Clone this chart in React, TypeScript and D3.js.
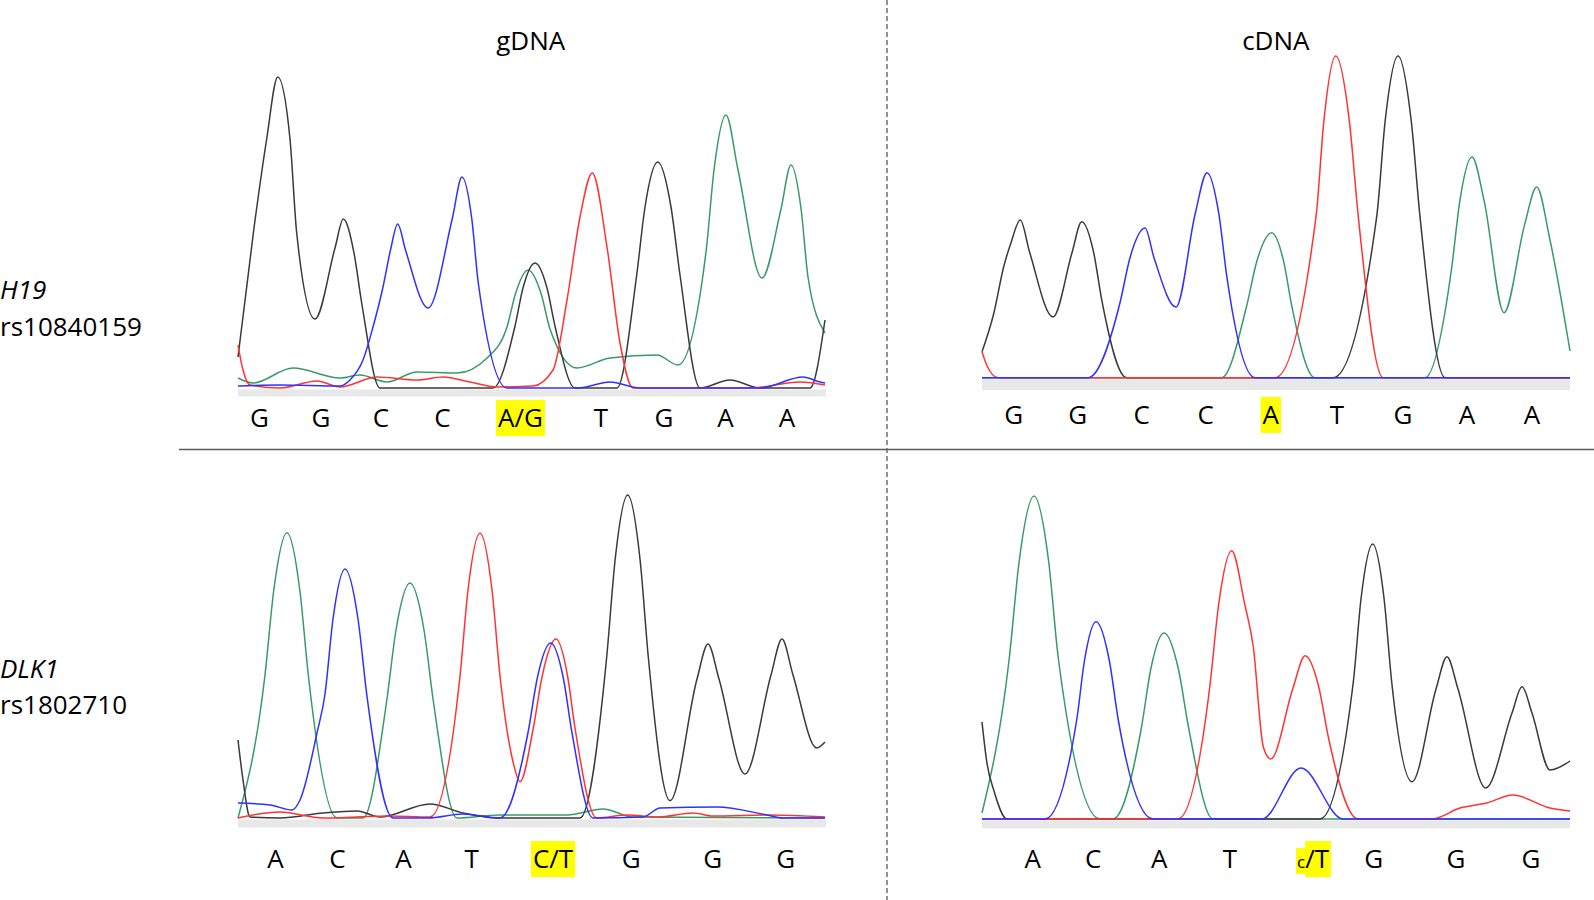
import React, { useEffect, useRef } from "react";
import * as d3 from "d3";

type Pt = [number, number];

// ---------- H19 rs10840159 — gDNA (scan offset, signal) ----------
const h19gDNA_G: Pt[] = [[0,31],[16,160],[28.7,249],[39.7,311],[52,249],[58.7,155],[77,69],[97,140],[105.3,169],[116,135],[123.7,85],[142,0],[255,0],[277,62],[285,100],[297,125],[309,100],[317,62],[337,0],[379,0],[398.7,113],[407,181],[419.7,226],[433,181],[442,113],[462,0],[492,8],[522,0],[572,0],[587,68]];
const h19gDNA_A: Pt[] = [[0,10],[15,5],[55,20],[102,10],[122,13],[149,6],[179,16],[219,15],[249,30],[269,61],[277.4,94],[290,118],[303.2,94],[312,59],[339,20],[372,30],[419,33],[440,23],[468,136],[476,218],[488,273],[500,218],[524,110],[542.8,178],[553,223],[563.2,178],[570,111],[587,55]];
const h19gDNA_T: Pt[] = [[0,43],[5,18],[12,3],[42,0],[79,7],[102,1],[139,11],[179,8],[205,11],[232,6],[259,1],[295,2],[315,18],[329,88],[342,171],[354.3,215],[369,141],[382,45],[395,0],[512,0],[562,6],[587,3]];
const h19gDNA_C: Pt[] = [[0,2],[42,3],[102,2],[112,8],[125,28],[135,61],[145,101],[152.5,138],[159.7,164],[167.5,138],[190,80],[214.2,169],[224,211],[233.8,169],[240.3,105],[269,0],[340,0],[372,6],[402,0],[522,0],[565,11],[582,6],[587,5]];
const h19gDNA_calls = ["G","G","C","C","A/G","T","G","A","A"];
const h19gDNA_callPos = [21.5, 83, 143, 204.5, 282.5, 363, 426, 487.5, 549];

// ---------- H19 rs10840159 — cDNA ----------
const h19cDNA_G: Pt[] = [[0,26],[11.7,64],[21.7,111],[29,135],[38.3,157.7],[47.5,126],[71,60.7],[90,125],[99.7,156],[111.7,125],[119.7,78],[144.7,0],[351,0],[394.7,161],[403.2,257],[416,321.7],[429.2,257],[438,161],[463,0],[588,0]];
const h19cDNA_A: Pt[] = [[0,0],[239.7,0],[264.7,72],[274.7,116],[289.7,145],[301.7,116],[309.7,72],[333,0],[443,0],[469.7,110],[477.8,176.6],[490,220.7],[502.2,176.6],[522,65],[542.5,152.6],[554.7,190.7],[568,137.7],[588,26.7]];
const h19cDNA_T: Pt[] = [[0,26],[5,12],[16,0],[293,0],[334,161],[341.9,257],[353.7,321.7],[367.3,257],[376.3,161],[401,0],[588,0]];
const h19cDNA_C: Pt[] = [[0,0],[106,0],[138,75],[148,120],[163,149.7],[172,120],[194,70.7],[213.2,164],[225,205],[236.8,164],[244.7,102],[273,0],[588,0]];
const h19cDNA_calls = ["G","G","C","C","A","T","G","A","A"];
const h19cDNA_callPos = [31.6, 95.6, 159.6, 223.7, 288.8, 354.8, 421, 485, 550];

// ---------- DLK1 rs1802710 — gDNA ----------
const dlk1gDNA_G: Pt[] = [[0,78],[5,38],[12,1],[42,0],[85,5],[119,7],[142,1],[192,14],[225,5],[259,0],[342,0],[368.7,161],[377.1,258],[389.7,323],[402.1,258],[410.3,161],[432,17.3],[459,139],[470,174],[481,139],[507,44],[533,143],[544,179],[555,143],[578.7,70],[587,76]];
const dlk1gDNA_A: Pt[] = [[0,0],[27,143],[35.8,228],[49,285.3],[61.8,228],[70.3,143],[99,0],[125,0],[148.7,117],[158,188],[172,235],[186,188],[195.3,117],[219,0],[262,3],[292,3],[329,3],[365,9],[395,1],[587,0]];
const dlk1gDNA_C: Pt[] = [[0,15],[32,13],[54,8],[62,18],[79,85],[87,124],[95,199],[107,249],[120,199],[128.7,124],[155,0],[190,0],[225,4],[262,0],[290.3,87],[299.3,140],[312.7,175],[325.3,140],[333.7,87],[355,0],[405,1],[422,10],[479,11],[529,3],[545,0],[587,0]];
const dlk1gDNA_T: Pt[] = [[0,0],[42,6],[85,0],[119,1],[150,2],[192,1],[222,142],[230,228],[242,285],[254,228],[262,142],[275.3,55],[282,36.3],[295.3,90],[304.4,143],[318,179],[329.4,143],[337,90],[358.7,0],[389,3],[420,1],[455,5],[475,2],[530,3],[587,1]];
const dlk1gDNA_calls = ["A","C","A","T","C/T","G","G","G"];
const dlk1gDNA_callPos = [37.5, 99.5, 165.6, 233.7, 315, 393.3, 474.6, 547.8];

// ---------- DLK1 rs1802710 — cDNA ----------
const dlk1cDNA_G: Pt[] = [[0,97],[5,55.7],[11.7,29],[25,0],[338,0],[371.3,137],[379,220],[390.7,275],[402.1,220],[409.7,137],[430,37.3],[454,130],[465,162.3],[476,130],[503.7,31],[530,106],[540,132.3],[550,106],[568,49],[588,58]];
const dlk1cDNA_A: Pt[] = [[0,6],[27.3,161],[37.2,258],[52,323],[66.6,258],[76.3,161],[118,0],[131,0],[159.7,93],[168.6,149],[182,186],[196.6,149],[206.3,93],[231,0],[588,0]];
const dlk1cDNA_C: Pt[] = [[0,0],[63,0],[94.7,99],[102.4,158],[114,197.3],[127.4,158],[136.3,99],[171,0],[280,0],[319,51],[361,0],[588,0]];
const dlk1cDNA_T: Pt[] = [[0,0],[196,0],[228,134],[236.7,215],[249.7,268.3],[262.7,215],[271.3,172],[281.3,72],[288.7,60],[311,131],[323,163.3],[337,131],[346.3,82],[376,0],[450,0],[478,11],[504.7,16],[531,24],[568,11],[588,8]];
const dlk1cDNA_calls = ["A","C","A","T","c/T","G","G","G"];
const dlk1cDNA_callPos = [50.8, 111.3, 177.2, 248, 331, 391.8, 474, 549];

const columnTitles = ["gDNA", "cDNA"];
const rowGenes = ["H19", "DLK1"];
const rowSnps = ["rs10840159", "rs1802710"];

const COLORS: Record<string, string> = { A: "#3a9a66", C: "#3030ff", G: "#3a3a3a", T: "#ff3333" };
const FONT = "'Open Sans', 'Liberation Sans', sans-serif";

const PANEL_W = 588;
const SCAN_MAX = 588;

const panels = [
  { left: 238, baseline: 388, strip: 7, labelY: 418, traces: { A: h19gDNA_A, G: h19gDNA_G, T: h19gDNA_T, C: h19gDNA_C }, calls: h19gDNA_calls, callPos: h19gDNA_callPos, hl: 4 },
  { left: 982, baseline: 377.7, strip: 11, labelY: 415, traces: { A: h19cDNA_A, G: h19cDNA_G, T: h19cDNA_T, C: h19cDNA_C }, calls: h19cDNA_calls, callPos: h19cDNA_callPos, hl: 4 },
  { left: 238, baseline: 818, strip: 8, labelY: 859, traces: { A: dlk1gDNA_A, G: dlk1gDNA_G, T: dlk1gDNA_T, C: dlk1gDNA_C }, calls: dlk1gDNA_calls, callPos: dlk1gDNA_callPos, hl: 4 },
  { left: 982, baseline: 819, strip: 8, labelY: 859, traces: { A: dlk1cDNA_A, G: dlk1cDNA_G, T: dlk1cDNA_T, C: dlk1cDNA_C }, calls: dlk1cDNA_calls, callPos: dlk1cDNA_callPos, hl: 4 },
];

export default function App() {
  const ref = useRef<SVGSVGElement>(null);
  useEffect(() => {
    const svg = d3.select(ref.current!);
    svg.selectAll("*").remove();
    svg.append("rect").attr("width", 1594).attr("height", 900).attr("fill", "#fff");

    // separators
    svg.append("line").attr("x1", 179).attr("x2", 1594).attr("y1", 449.5).attr("y2", 449.5)
      .attr("stroke", "#5a5a5a").attr("stroke-width", 1.4);
    svg.append("line").attr("x1", 887).attr("x2", 887).attr("y1", 0).attr("y2", 900)
      .attr("stroke", "#666").attr("stroke-width", 1.4).attr("stroke-dasharray", "5,3");

    // titles
    const titleX = [530.7, 1275.8];
    columnTitles.forEach((t, i) => {
      svg.append("text").attr("x", titleX[i]).attr("y", 50).attr("text-anchor", "middle")
        .attr("font-family", FONT).attr("font-size", 26).attr("fill", "#000").text(t);
    });
    // row labels
    const geneY = [299, 677.5];
    rowGenes.forEach((g, i) => {
      svg.append("text").attr("x", 0).attr("y", geneY[i]).attr("font-family", FONT).attr("font-size", 26)
        .attr("font-style", "italic").attr("fill", "#000").text(g);
      svg.append("text").attr("x", 0).attr("y", geneY[i] + 36.5).attr("font-family", FONT).attr("font-size", 26)
        .attr("fill", "#000").text(rowSnps[i]);
    });

    panels.forEach((p) => {
      const x = d3.scaleLinear().domain([0, SCAN_MAX]).range([p.left, p.left + PANEL_W]);
      const y = d3.scaleLinear().domain([0, 330]).range([p.baseline, p.baseline - 330]);
      svg.append("rect").attr("x", x(0)).attr("y", p.baseline + 1.5).attr("width", PANEL_W)
        .attr("height", p.strip).attr("fill", "#e8e8e8");
      const line = d3.line<Pt>().x((d) => x(d[0])).y((d) => y(d[1])).curve(d3.curveMonotoneX);
      (["A", "G", "T", "C"] as const).forEach((b) => {
        svg.append("path").attr("d", line((p.traces as any)[b])!).attr("fill", "none")
          .attr("stroke", COLORS[b]).attr("stroke-width", 1.5).attr("stroke-linejoin", "round");
      });
      const base = p.labelY + 9.3;
      p.calls.forEach((c, i) => {
        const cx = x(p.callPos[i]);
        const g = svg.append("g");
        if (i === p.hl && c[0] === c[0].toLowerCase() && c[0] !== c[0].toUpperCase()) {
          const small = g.append("text").attr("font-family", FONT).attr("font-size", 17).attr("fill", "#000").text(c[0]);
          const big = g.append("text").attr("font-family", FONT).attr("font-size", 26).attr("fill", "#000").text(c.slice(1));
          const ws = (small.node() as SVGTextElement).getComputedTextLength();
          const wb = (big.node() as SVGTextElement).getComputedTextLength();
          const sx = cx - (ws + wb) / 2;
          small.attr("x", sx).attr("y", base);
          big.attr("x", sx + ws).attr("y", base);
          g.insert("rect", "text").attr("x", sx - 1).attr("y", p.labelY - 11).attr("width", ws + 1.5)
            .attr("height", 26).attr("fill", "#ffff00");
          g.insert("rect", "text").attr("x", sx + ws).attr("y", p.labelY - 18).attr("width", wb + 2)
            .attr("height", 36).attr("fill", "#ffff00");
        } else {
          const t = g.append("text").attr("x", cx).attr("y", base).attr("text-anchor", "middle")
            .attr("font-family", FONT).attr("font-size", 26).attr("fill", "#000").text(c);
          if (i === p.hl) {
            const w = (t.node() as SVGTextElement).getComputedTextLength();
            g.insert("rect", "text").attr("x", cx - w / 2 - 2).attr("y", p.labelY - 18).attr("width", w + 4)
              .attr("height", 36).attr("fill", "#ffff00");
          }
        }
      });
    });
  }, []);
  return <svg ref={ref} width={1594} height={900} style={{ position: "absolute", left: 0, top: 0 }} />;
}
